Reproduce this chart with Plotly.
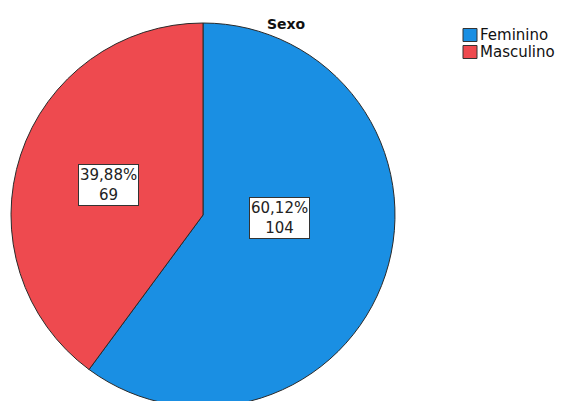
import plotly.graph_objects as go

# Data
categories = ["Feminino", "Masculino"]
counts = [104, 69]
colors = ["#1A8FE3", "#EE4A4F"]
title_text = "Sexo"

W, H = 568, 412
total = sum(counts)
pcts = [c / total * 100 for c in counts]

def fmt_pct(p):
    return f"{p:.2f}".replace(".", ",") + "%"

# Pie placement in pixels (left, top, diameter)
px_left, px_top, diam = 11, 23, 384

fig = go.Figure(go.Pie(
    labels=categories,
    values=counts,
    marker=dict(colors=colors, line=dict(color="#2a2a2a", width=1)),
    sort=False,
    direction="clockwise",
    rotation=0,
    textinfo="none",
    hoverinfo="label+value+percent",
    showlegend=False,
    domain=dict(x=[px_left / W, (px_left + diam) / W],
                y=[1 - (px_top + diam) / H, 1 - px_top / H]),
))

# Boxed value labels inside each slice (pixel centres)
label_pos = [(279, 218), (108, 185)]
annotations = []
for (lx, ly), p, c in zip(label_pos, pcts, counts):
    annotations.append(dict(
        x=lx / W, y=1 - ly / H, xref="paper", yref="paper",
        text=f"{fmt_pct(p)}<br>{c}", showarrow=False,
        font=dict(family="DejaVu Sans", size=15, color="#222222"),
        bgcolor="white", bordercolor="#333333", borderwidth=1, borderpad=1,
        xanchor="center", yanchor="middle",
    ))

# Title
annotations.append(dict(
    x=286 / W, y=1 - 24 / H, xref="paper", yref="paper",
    text=f"<b>{title_text}</b>", showarrow=False,
    font=dict(family="DejaVu Sans", size=14, color="#111111"),
    xanchor="center", yanchor="middle",
))

# Legend: swatches and labels
shapes = []
leg_x, leg_y0, leg_step, sw = 463, 35, 17, 14
for i, (cat, col) in enumerate(zip(categories, colors)):
    cy = leg_y0 + i * leg_step
    shapes.append(dict(
        type="rect", xref="paper", yref="paper",
        x0=leg_x / W, x1=(leg_x + sw) / W,
        y0=1 - (cy + sw / 2 - 0.5) / H, y1=1 - (cy - sw / 2 + 0.5) / H,
        fillcolor=col, line=dict(color="#333333", width=1),
    ))
    annotations.append(dict(
        x=(leg_x + sw + 1) / W, y=1 - cy / H, xref="paper", yref="paper",
        text=cat, showarrow=False,
        font=dict(family="DejaVu Sans", size=15, color="#111111"),
        xanchor="left", yanchor="middle",
    ))

fig.update_layout(
    width=W, height=H,
    margin=dict(l=0, r=0, t=0, b=0),
    paper_bgcolor="white", plot_bgcolor="white",
    annotations=annotations, shapes=shapes,
)

fig.write_html("out.html",
               post_script="document.documentElement.style.overflow='hidden';"
                           "document.body.style.overflow='hidden';")
